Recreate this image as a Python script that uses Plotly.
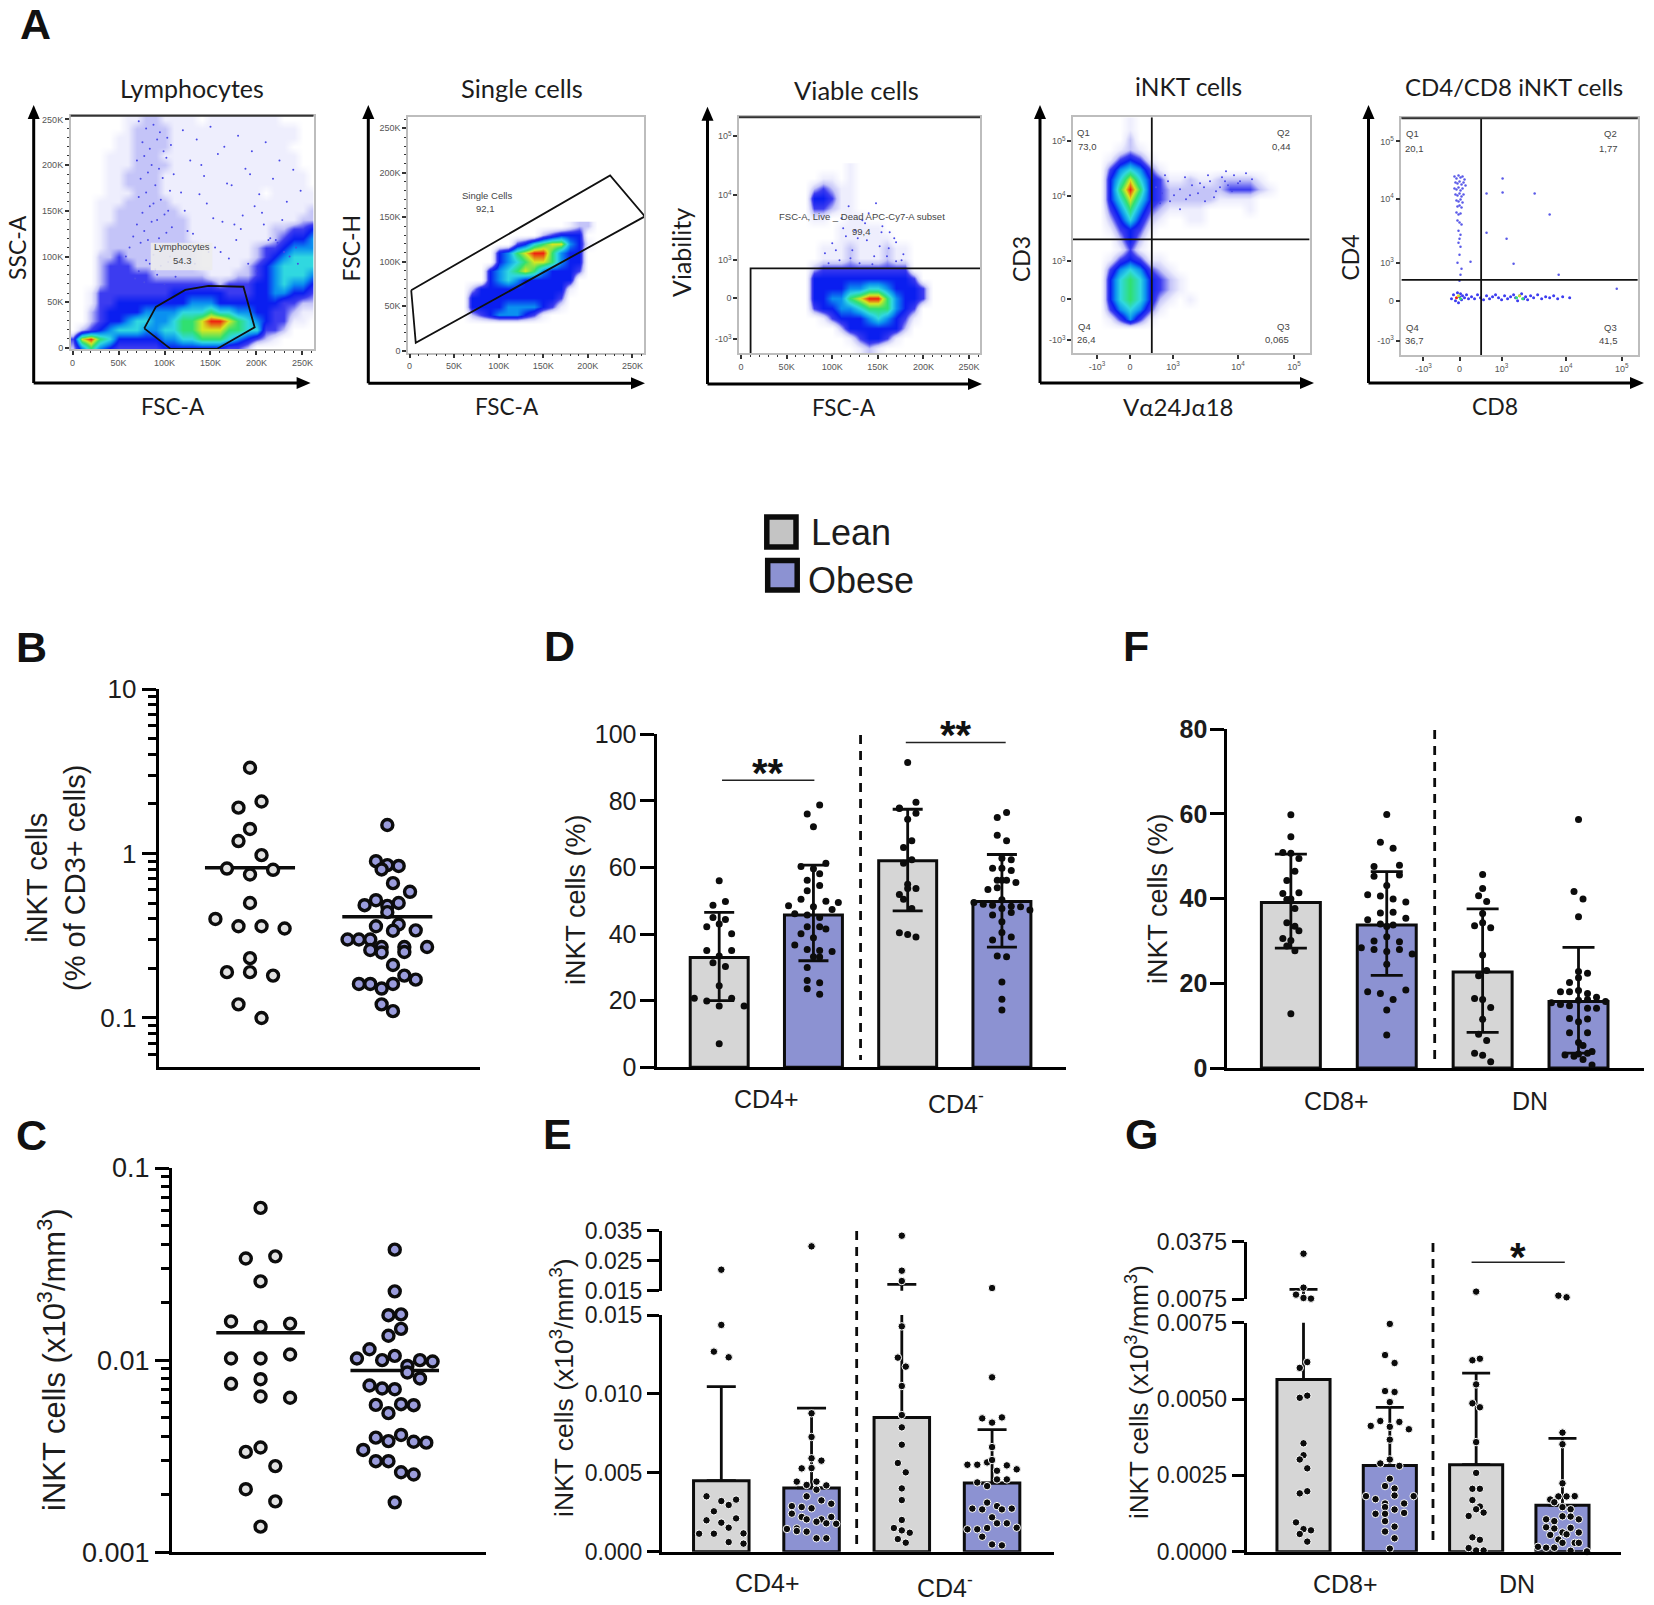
"""Multi-panel iNKT figure: flow gating row (A) and the lean/obese comparison panels (B-G)."""
import plotly.graph_objects as go

W, H = 1654, 1605
LEAN_COLOR = "#d6d6d6"
OBESE_COLOR = "#8c92d2"
LEAN_RING = "#e2e2e2"
OBESE_RING = "#9a9cdc"
SANS = "Liberation Sans"
FLOW_FONT = "Lato"
INK = "#1c1c1c"
DENSITY_SCALE = [
    [0 / 9, "#ffffff"], [1 / 9, "#eeeefd"], [2 / 9, "#c4c4f8"], [3 / 9, "#3c3cf0"], [4 / 9, "#0a1ef0"],
    [5 / 9, "#0a90f0"], [6 / 9, "#30d8e0"], [7 / 9, "#30e070"], [8 / 9, "#d8e820"], [9 / 9, "#f02010"],
]

# ---- panel A: density levels (0-9), top row first
A1_X = list(range(0, 270, 10))
A1_Y = list(range(250, -10, -10))
A1_DENSITY = [
    "000000112211110111111110000", "000000122221111111111111100", "000001122221111111111111100",
    "000001122221111111111111000", "000011122211111111111111100", "000011122221111111111111100",
    "000011222211111111111111110", "000011222211111111111111110", "000011122211111111111011111",
    "000111222221111111111111111", "000112222222111111111111112", "000112222222211111111111122",
    "000122222222211111111122334", "000122222222211111111123445", "000122222222221111112334555",
    "000223222222221111112345666", "000233322222221111123456666", "000233333222222111223456665",
    "000233333333333323334456554", "001333333334444443334455443", "001334444444455544444443322",
    "002344445555666766554433211", "002344566556778998765433110", "023456665566778887766332000",
    "389764444455667776543210000", "257543333344444443320000000",
]
A1_GATE_X = [78, 90.6, 122.6, 147.7, 185.8, 198, 157, 106.6, 78]
A1_GATE_Y = [21.5, 45, 63.5, 68, 67, 22.6, -1, -1, 21.5]
A1_SPECK_X = [72, 80, 88, 95, 103, 76, 84, 92, 99, 107, 70, 78, 86, 94, 102, 110, 74, 82, 90, 98, 106, 72, 80, 88, 96,
              104, 76, 84, 92, 100, 108, 70, 78, 86, 94, 102, 74, 82, 90, 98, 106, 66, 80, 88, 96, 62, 72, 84, 92, 104,
              58, 68, 78, 90, 100, 112, 120, 135, 150, 165, 180, 195, 210, 225, 240, 128, 143, 158, 173, 188, 203, 218,
              233, 248, 122, 138, 153, 168, 183, 198, 213, 228, 243, 131, 146, 161, 176, 191, 206, 221, 236, 125, 140,
              155, 170, 185, 200, 215, 230, 245, 118, 133, 148, 163, 178, 193, 208, 223]
A1_SPECK_Y = [248, 240, 244, 236, 230, 225, 218, 228, 215, 222, 205, 210, 200, 196, 208, 190, 185, 192, 178, 186, 172,
              165, 170, 158, 162, 150, 148, 155, 140, 146, 132, 135, 128, 138, 120, 126, 115, 118, 108, 112, 100, 122,
              96, 102, 90, 110, 84, 92, 80, 94, 100, 76, 72, 86, 70, 78, 238, 228, 242, 220, 232, 215, 225, 205, 195,
              205, 188, 212, 178, 196, 168, 185, 160, 172, 150, 168, 142, 180, 130, 155, 118, 140, 110, 125, 158, 105,
              135, 92, 148, 118, 100, 128, 200, 110, 98, 145, 84, 120, 105, 92, 170, 92, 105, 138, 118, 190, 135, 115]

A2_X = list(range(0, 270, 10))
A2_Y = list(range(140, 20, -10))
A2_DENSITY = [
    "000000000000000000122000000", "000000000000000234440000000", "000000000000346788541000000",
    "000000000045789975440000000", "000000000045678875440000000", "000000000456787544430000000",
    "000000000456544444400000000", "000000024444444444100000000", "000000044444444443000000000",
    "000000044445555431000000000", "000000023455543100000000000", "000000000000000000000000000",
]
A2_GATE_X = [1.9, 7, 264, 225, 1.9]
A2_GATE_Y = [68, 9, 151, 197, 68]

A3_X = list(range(0, 270, 10))
A3_Y = list(range(130, -60, -10))
A3_DENSITY = [
    "000000000000100000000000000", "000000000110100000000000000", "000000002321100000000000000",
    "000000004431100000000000000", "000000003321100000000000000", "000000001100110000000000000",
    "000000000001111100000000000", "000000000001111110000000000", "000000000111211121100000000",
    "000000000111211121100000000", "000000002333333333300000000", "000000004444444444430000000",
    "000000004444556654443000000", "000000004455789975443000000", "000000003445567775430000000",
    "000000000134445654310000000", "000000000002444444200000000", "000000000000134431000000000",
    "000000000000012100000000000",
]
A3_GATE_X = [10.5, 10.5, 262]
A3_GATE_Y = [-55, 30, 30]
A3_SPECK_X = [92, 100, 108, 115, 122, 130, 138, 146, 154, 162, 170, 178, 96, 104, 112, 120, 128, 136, 144, 152, 160, 168,
              176, 110, 125, 140, 155, 170, 118, 133, 148, 163]
A3_SPECK_Y = [45, 55, 38, 62, 48, 35, 58, 42, 66, 50, 37, 44, 35, 48, 70, 40, 60, 75, 34, 52, 42, 60, 38, 80, 68, 85, 72,
              56, 92, 78, 95, 66]

A4_X = list(range(-50, 180, 10))
A4_Y = list(range(180, -60, -10))
A4_DENSITY = [
    "00000100000000000000000", "00000100000000000000000", "00000200000000000000000", "00001210000000000000000",
    "00013431000000000000000", "00035653100000000000000", "00046864311211222210000", "00047974322222233321000",
    "00046864322222111100000", "00035753211110000100000", "00024642100110000000000", "00013431000000000000000",
    "00002420000000000000000", "00001310000000000000000", "00013431100000000000000", "00035653210000000000000",
    "00046764321000000000000", "00046764321000000000000", "00046764210100000000000", "00035653100000000000000",
    "00013531000000000000000", "00000000000000000000000", "00000000000000000000000", "00000000000000000000000",
]
A4_QUAD_X = 21.8
A4_QUAD_Y = 60
A4_SPECK_X = [26, 32, 38, 44, 50, 56, 62, 68, 74, 80, 86, 92, 98, 104, 110, 116, 122, 30, 40, 50, 60, 70, 78, 84, 90, 96,
              102, 108, 35, 55, 75, 95]
A4_SPECK_Y = [112, 106, 118, 104, 110, 100, 114, 106, 112, 118, 108, 122, 114, 124, 118, 126, 120, 96, 98, 90, 104, 116,
              124, 102, 112, 128, 108, 116, 124, 122, 98, 118]

A5_COLUMN_X = [-5, -3, -1, 1, 3, 5, -4, -2, 0, 2, 4, 6, -5, -3, -1, 1, 3, -4, -2, 0, 2, 4, -3, -1, 1, 3, -2, 0, 2, -3,
               -1, 1, -2, 0, 2, -1, 1, 0, -1, 1, 0, -2, 2, 1, 0, 43, 27, 43, 75, 90, 27, 47, 54, 11, 99, 157]
A5_COLUMN_Y = [124, 122, 125, 123, 124, 121, 118, 117, 119, 116, 118, 115, 112, 111, 113, 110, 112, 106, 105, 107, 104,
               106, 100, 99, 101, 98, 94, 95, 93, 88, 86, 87, 80, 78, 76, 70, 66, 62, 58, 54, 46, 38, 32, 26, 20,
               122, 107, 108, 107, 86, 68, 62, 37, 39, 26, 12]
A5_BAND_X = [-8, -6, -4, -2, -1, 0, 1, 2, 3, 5, 7, 9, 12, 15, 18, 21, 24, 27, 30, 33, 36, 39, 42, 45, 48, 51, 54, 56,
             58, 60, 62, 64, 66, 68, 71, 74, 78, 82, 86, 90, 94, 98, 103, 110, -3, -1, 1, 57, 60, 63]
A5_BAND_Y = [2, 6, 0, 8, -2, 4, 7, 1, 5, 3, 6, 2, 4, 2, 6, 3, 1, 5, 2, 4, 6, 3, 1, 5, 2, 4, 6, 3, 0, 5, 7, 2, 4, 1, 5,
             3, 6, 2, 4, 3, 5, 2, 4, 3, 3, 5, 2, 3, 5, 2]
A5_BAND_LEVEL = [3] * 44 + [9, 8, 7, 7, 8, 7]
A5_QUAD_X = 21.6
A5_QUAD_Y = 21

# ---- panel B
B_LEAN_COL = [0, 1, -1, 0, -1, 1, -2, 2, 0, 0, -3, -1, 1, 3, 0, -2, 0, 2, -1, 1]
B_LEAN = [3.32, 2.07, 1.90, 1.41, 1.19, 0.977, 0.81, 0.796, 0.745, 0.50, 0.40, 0.361, 0.361, 0.35, 0.231, 0.19, 0.19,
          0.181, 0.121, 0.10]
B_LEAN_MEAN = 0.82
B_OBESE_COL = [0, -1, 0, 1, -0.5, 0.5, 2, -1, -2, 1, 0, 0, 1, -1, 0.5, 2.5, -3.5, -2.5, -1.5, -0.5, -1.5, 1.5, 1.5,
               3.5, -0.5, 0.5, 1.5, 2.5, -2.5, -1.5, 0.5, -0.5, -0.5, 0.5]
B_OBESE = [1.49, 0.898, 0.85, 0.84, 0.80, 0.66, 0.585, 0.52, 0.485, 0.50, 0.48, 0.44, 0.37, 0.361, 0.339, 0.341, 0.30,
           0.30, 0.30, 0.27, 0.259, 0.27, 0.252, 0.27, 0.25, 0.21, 0.181, 0.171, 0.161, 0.161, 0.161, 0.151, 0.121, 0.11]
B_OBESE_MEAN = 0.412
B_TICKS = [0.1, 1, 10]
B_MINOR = [0.05, 0.06, 0.07, 0.08, 0.09, 0.2, 0.3, 0.4, 0.5, 0.6, 0.7, 0.8, 0.9, 2, 3, 4, 5, 6, 7, 8, 9]

# ---- panel C
C_LEAN_COL = [0, -1, 1, 0, -2, 2, 0, -2, 0, 2, -2, 0, 0, 2, 0, -1, 1, -1, 1, 0]
C_LEAN = [0.062, 0.0338, 0.0347, 0.0257, 0.0159, 0.0155, 0.0149, 0.0102, 0.0102, 0.0107, 0.00753, 0.00796, 0.00647,
          0.00637, 0.00351, 0.00333, 0.00281, 0.00213, 0.00184, 0.00136]
C_LEAN_MEAN = 0.0139
C_OBESE_COL = [0, 0, -1, 1, 1, -1, -4, -6, -2, 0, 4, 6, 2, 2, 4, -4, -2, 0, -3, 1, 3, -1, -3, 1, -1, 3, 5, -5, -3, -1,
               1, 3, 0]
C_OBESE = [0.0376, 0.0228, 0.01714, 0.0173, 0.01455, 0.0134, 0.0114, 0.0102, 0.01, 0.01053, 0.01, 0.00984, 0.00933,
           0.00863, 0.00803, 0.00738, 0.00712, 0.00706, 0.00585, 0.0059, 0.00583, 0.0053, 0.00395, 0.00408, 0.00379,
           0.00376, 0.00372, 0.00341, 0.00298, 0.00298, 0.00261, 0.00254, 0.00182]
C_OBESE_MEAN = 0.00883
C_TICKS = [0.001, 0.01, 0.1]
C_MINOR = [0.002, 0.003, 0.004, 0.005, 0.006, 0.007, 0.008, 0.009, 0.02, 0.03, 0.04, 0.05, 0.06, 0.07, 0.08, 0.09]

# ---- panel D, bars are [CD4+, CD4-]
D_LEAN_BAR = [33, 62]
D_LEAN_HI = [46.5, 77.5]
D_LEAN_LO = [20, 47]
D_OBESE_BAR = [45.7, 49.8]
D_OBESE_HI = [60.7, 63.9]
D_OBESE_LO = [32, 36.1]
D1_LEAN_COL = [0, -1, 1, -1, 1, 0, -2, 2, -2, 2, 0, -1, 1, 0, -4, -2, 2, 0, 4, 0]
D1_LEAN = [56, 48.7, 49.8, 45, 44.4, 43, 42.2, 40.1, 35.1, 35.1, 33.4, 31.4, 30.3, 24.5, 20.7, 19.9, 20.7, 18.4, 18.4,
           7.1]
D1_OBESE_COL = [1, -1, 0, 2, -2, 0, 1, -1, 1, -1, -2, 2, 4, -4, 3, 0, -3, -1, 1, -1, 1, 2, -2, 0, -3, -1, 1, 3, 0, 1,
                -1, -1, 1, -1, 1]
D1_OBESE = [78.8, 76.1, 72.2, 61.3, 60.3, 59.6, 58.1, 56.2, 54.6, 53, 50.5, 49.9, 49.5, 48.5, 47.4, 48.2, 46.1, 45.7,
            45, 42.2, 42.2, 41.5, 40.1, 38.9, 36.7, 35.4, 35.1, 34.8, 33.2, 33.1, 30, 26.1, 25.4, 23.6, 21.9]
D2_LEAN_COL = [0, 2, -2, -2, 2, 0, 1, -1, 1, -1, 0, 2, 0, -2, -1, 1, -2, 0, 2]
D2_LEAN = [91.5, 79.6, 77.7, 77.9, 76.3, 74.5, 68, 66, 62.3, 61.3, 55, 53.7, 53.7, 51.9, 50.5, 47.7, 40.4, 39.9, 39.1]
D2_OBESE_COL = [1, -1, -1, 1, 0, 2, -2, 0, 2, 0, -1, 1, 3, -3, -1, -6, -4, -2, 0, 2, 4, 6, -2, 0, 2, 0, 0, -2, 2, -1,
                1, 0, 0, 0]
D2_OBESE = [76.5, 75, 69.7, 68, 62.8, 62.3, 59.8, 59.8, 59.1, 56.2, 56.2, 56.2, 55.5, 53.4, 53.9, 49.5, 49, 48.7, 50.3,
            48.4, 48.2, 47.2, 45.7, 47.7, 46.5, 43.7, 40.5, 38.2, 39.1, 33.4, 33.2, 25.6, 20.4, 17.2]

# ---- panel F, bars are [CD8+, DN]
F_LEAN_BAR = [39.1, 22.7]
F_LEAN_HI = [50.5, 37.6]
F_LEAN_LO = [28.3, 8.4]
F_OBESE_BAR = [33.8, 15.7]
F_OBESE_HI = [46.4, 28.5]
F_OBESE_LO = [21.9, 3.5]
F1_LEAN_COL = [0, 0, -2, 0, 2, 1, -1, -2, 2, -1, 0, 1, -1, 1, 2, -2, 0, -1, 1, 0]
F1_LEAN = [59.8, 54.6, 50.9, 50.7, 49.5, 46.5, 44.3, 41.2, 41.4, 39.8, 39.9, 37.7, 34.3, 33.5, 32.4, 30.6, 30.1, 28.8,
           27.7, 12.8]
F1_OBESE_COL = [0, -1, 1, -2, 2, -2, 2, 0, -3, -1, 1, 3, -1, 1, -3, 3, -1, 1, 0, 0, -2, 2, -4, -2, 2, 0, 4, 0, -3, 3,
                -1, 1, 0, 0]
F1_OBESE = [59.9, 53.3, 51.9, 47.6, 47.9, 45.3, 45.6, 43.1, 40.9, 40.6, 39.9, 39.2, 36.6, 36.8, 35, 35.4, 34, 33.8,
            33.4, 31, 30, 29.8, 28.4, 28, 28, 27.5, 26.9, 24.5, 18, 18.4, 17.6, 16.2, 13.7, 7.8]
F2_LEAN_COL = [0, 0, -1, 1, 0, 0, -2, 2, 0, 1, -1, -2, 0, 2, 0, -1, 1, -2, 0, 2]
F2_LEAN = [45.7, 42.4, 40.7, 39.3, 36.5, 34.3, 33.6, 33.1, 26.7, 23, 21.8, 16.4, 16.2, 14.3, 11.5, 8, 6.5, 3.5, 3, 1.5]
F2_OBESE_COL = [0, -1, 1, 0, 0, 2, 0, -2, -4, -2, 0, 2, 4, 2, -6, -4, -2, 0, 6, 4, 2, -2, 0, 2, -2, 2, 0, 1, 3, 2, -3,
                -1, 1, 0, 3]
F2_OBESE = [58.7, 41.7, 39.9, 35.7, 22.8, 22.4, 21.3, 20.2, 18, 18, 18.3, 17.6, 16.7, 16.2, 15.4, 15, 14.7, 16, 15.7,
            14.1, 14.1, 11.7, 10.9, 11.6, 8.3, 8.3, 6, 5.3, 3.9, 3.5, 3.1, 2.8, 2, 3.3, 0.7]

# ---- panel E, bars are [CD4+, CD4-]
E_LEAN_BAR = [0.0045, 0.00851]
E_LEAN_HI = [0.01046, 0.0171]
E_OBESE_BAR = [0.00404, 0.00435]
E_OBESE_HI = [0.0091, 0.00773]
E1_LEAN_COL = [0, 0, -1, 1, -2, 0, 1, 2, -1, -2, 0, 2, 1, -3, -1, 3, 1, 3]
E1_LEAN = [0.0220, 0.01437, 0.01268, 0.01232, 0.00351, 0.00321, 0.00296, 0.0033, 0.00256, 0.00199, 0.00184, 0.00211,
           0.00152, 0.00114, 0.00114, 0.00116, 0.00061, 0.00051]
E1_OBESE_COL = [0, 0, 0, 0, 2, -2, 0, -3, 1, -1, 3, 1, -1, 2, 4, -4, -2, 0, -4, -2, -1, 4, 2, 1, 3, 5, -5, -3, -3, -1,
                1, 3]
E1_OBESE = [0.02978, 0.00877, 0.00727, 0.00592, 0.00577, 0.00528, 0.0053, 0.00444, 0.00444, 0.00423, 0.0042, 0.00393,
            0.00351, 0.00325, 0.00304, 0.00289, 0.00283, 0.00275, 0.00241, 0.0022, 0.00205, 0.0022, 0.00205, 0.0019,
            0.0018, 0.00177, 0.00144, 0.00148, 0.00131, 0.00127, 0.00085, 0.00085]
E2_LEAN_COL = [0, 0, 0, 0, -1, 1, 0, 0, 0, 0, -1, 1, 0, 0, 0, -2, 0, 2, -1, 1]
E2_LEAN = [0.03333, 0.02167, 0.01822, 0.01428, 0.0123, 0.01173, 0.0105, 0.00866, 0.00788, 0.00678, 0.00562, 0.00503,
           0.00401, 0.00327, 0.00201, 0.0015, 0.00135, 0.0012, 0.0008, 0.00057]
E2_OBESE_COL = [0, 0, -2, 2, 0, 0, -1, 0, -5, -3, 3, 5, 1, 1, 3, -3, -1, -1, 1, -4, -2, 2, 4, 0, 1, 3, -1, -5, -3, 5,
                -2, 0, 2]
E2_OBESE = [0.01589, 0.01105, 0.00845, 0.00851, 0.00818, 0.00663, 0.00566, 0.00581, 0.00551, 0.00551, 0.00547, 0.00522,
            0.00513, 0.00458, 0.00458, 0.00439, 0.00416, 0.00311, 0.00289, 0.00273, 0.00268, 0.00268, 0.00273, 0.00218,
            0.0018, 0.0018, 0.0015, 0.00142, 0.00142, 0.00152, 0.00095, 0.00046, 0.0004]

# ---- panel G, bars are [CD8+, DN]
G_LEAN_BAR = [0.00564, 0.00285]
G_LEAN_HI = [0.0127, 0.00585]
G_OBESE_BAR = [0.00282, 0.00152]
G_OBESE_HI = [0.00473, 0.00371]
G1_LEAN_COL = [0, 0, -2, 0, 2, 1, -1, 1, -1, 0, 0, -1, 1, -1, 1, -2, 0, 2, -1, 1]
G1_LEAN = [0.03126, 0.01357, 0.00993, 0.00819, 0.00785, 0.00621, 0.00602, 0.00511, 0.00504, 0.00355, 0.00316, 0.00302,
           0.00273, 0.00191, 0.00198, 0.00096, 0.00074, 0.0007, 0.00058, 0.00033]
G1_OBESE_COL = [0, -1, 1, -1, 1, 0, -2, 2, -4, 0, 4, 0, 0, -2, 2, 0, -1, 1, 1, -5, 5, -3, 3, -1, -1, 1, -3, -1, 3, -1,
                1, -1, 1, 0]
G1_OBESE = [0.00746, 0.00644, 0.00618, 0.00526, 0.00523, 0.0049, 0.00428, 0.00425, 0.00412, 0.00409, 0.00401, 0.00367,
            0.00302, 0.00289, 0.00281, 0.00239, 0.00215, 0.00207, 0.00184, 0.00182, 0.00182, 0.00172, 0.00158, 0.00158,
            0.00146, 0.00138, 0.00124, 0.00124, 0.00127, 0.001, 0.00082, 0.00066, 0.00044, 0.0001]
G2_LEAN_COL = [0, -1, 1, 0, -1, 1, 0, 0, -1, 1, -1, 1, 0, 2, -2, -1, 1, -2, 0, 2]
G2_LEAN = [0.01149, 0.00627, 0.00632, 0.00548, 0.00486, 0.00473, 0.00359, 0.00258, 0.00206, 0.00206, 0.00169, 0.00148,
           0.00139, 0.00128, 0.00117, 0.00047, 0.00039, 0.00012, 0.00004, 0.00004]
G2_OBESE_COL = [-1, 1, 0, 0, 0, -1, 1, -3, 3, -2, 0, 2, 0, 2, -4, -2, 4, -4, -2, 2, -3, 0, 1, 4, -1, 0, 3, 4, -6, -4,
                -2, 2, 6]
G2_OBESE = [0.00941, 0.00854, 0.0039, 0.00352, 0.00224, 0.00181, 0.00181, 0.00171, 0.00182, 0.00162, 0.00146, 0.00139,
            0.00116, 0.00115, 0.00106, 0.001, 0.00106, 0.0008, 0.00076, 0.00078, 0.00055, 0.00063, 0.00057, 0.00063,
            0.0004, 0.00029, 0.00029, 0.00029, 0.00016, 0.00013, 0.00013, 0.00003, 0.00001]

fig = go.Figure()
layout = {}
shapes = []
notes = []


def dom_x(left, right):
    return [left / W, right / W]


def dom_y(top, bottom):
    return [1 - bottom / H, 1 - top / H]


def text(txt, x, y, size, angle=0, family=SANS, color=INK, xanchor="center", bold=False):
    notes.append(dict(
        text=f"<b>{txt}</b>" if bold else txt, x=x / W, y=1 - y / H, xref="paper", yref="paper",
        xanchor=xanchor, yanchor="middle", showarrow=False, textangle=angle,
        font=dict(family=family, size=size, color=color),
    ))


def paper_point(x, y):
    return f"{x / W:.5f},{1 - y / H:.5f}"


def arrow_up(x, tail_y, tip_y):
    shapes.append(dict(type="line", xref="paper", yref="paper", x0=x / W, x1=x / W, y0=1 - tail_y / H, y1=1 - (tip_y + 10) / H,
                       line=dict(color="black", width=3)))
    path = f"M {paper_point(x, tip_y)} L {paper_point(x - 6, tip_y + 14)} L {paper_point(x + 6, tip_y + 14)} Z"
    shapes.append(dict(type="path", xref="paper", yref="paper", path=path, fillcolor="black", line=dict(width=0)))


def arrow_right(y, tail_x, tip_x):
    shapes.append(dict(type="line", xref="paper", yref="paper", x0=tail_x / W, x1=(tip_x - 10) / W, y0=1 - y / H, y1=1 - y / H,
                       line=dict(color="black", width=3)))
    path = f"M {paper_point(tip_x, y)} L {paper_point(tip_x - 14, y - 6)} L {paper_point(tip_x - 14, y + 6)} Z"
    shapes.append(dict(type="path", xref="paper", yref="paper", path=path, fillcolor="black", line=dict(width=0)))


def value_axis(domain, rng, anchor, ticks, labels, size, ticklen=12, standoff=0, **extra):
    return dict(
        domain=domain, range=rng, anchor=anchor, showline=True, linecolor="black", linewidth=3,
        ticks="outside", ticklen=ticklen, tickwidth=3, tickcolor="black", tickmode="array",
        tickvals=ticks, ticktext=labels, tickfont=dict(family=SANS, size=size, color=INK),
        ticklabelstandoff=standoff, showgrid=False, zeroline=False, **extra,
    )


def base_axis(domain, rng, anchor, line=True):
    return dict(
        domain=domain, range=rng, anchor=anchor, showline=line, linecolor="black", linewidth=3,
        ticks="", showticklabels=False, showgrid=False, zeroline=False,
    )


def flow_axis(domain, rng, anchor, ticks, labels, minor=None):
    ax = dict(
        domain=domain, range=rng, anchor=anchor, showline=True, linecolor="#bdbdbd", linewidth=1.5, mirror=True,
        ticks="outside", ticklen=4, tickwidth=1.5, tickcolor="#333333", tickmode="array", tickvals=ticks,
        ticktext=labels, tickfont=dict(family=SANS, size=9, color="#555555"), showgrid=False, zeroline=False,
    )
    if minor:
        ax["minor"] = dict(ticks="outside", ticklen=2, tickwidth=1, tickcolor="#333333", dtick=minor)
    return ax


def density(name, xs, ys, rows):
    z = [[int(c) for c in row] for row in rows]
    fig.add_trace(go.Heatmap(
        x=xs, y=ys, z=z, zmin=0, zmax=9, colorscale=DENSITY_SCALE, zsmooth="best", showscale=False,
        xaxis=f"x{name}", yaxis=f"y{name}",
    ))


def specks(name, xs, ys):
    fig.add_trace(go.Scatter(
        x=xs, y=ys, mode="markers", marker=dict(size=2, color="#4a4ae8"), xaxis=f"x{name}", yaxis=f"y{name}",
    ))


def gate(name, xs, ys):
    fig.add_trace(go.Scatter(
        x=xs, y=ys, mode="lines", line=dict(color="#111111", width=1.8), xaxis=f"x{name}", yaxis=f"y{name}",
    ))


K_TICKS = [0, 50, 100, 150, 200, 250]
K_LABELS = ["0", "50K", "100K", "150K", "200K", "250K"]
EXP_LABELS = ["-10<sup>3</sup>", "0", "10<sup>3</sup>", "10<sup>4</sup>", "10<sup>5</sup>"]

# ---- A1 lymphocytes
layout["xaxis14"] = flow_axis(dom_x(70.7, 313.5), [-2, 262], "y14", K_TICKS, K_LABELS, 10)
layout["yaxis14"] = flow_axis(dom_y(115.7, 349.3), [-1.4, 254], "x14", K_TICKS, K_LABELS, 10)
density(14, A1_X, A1_Y, A1_DENSITY)
specks(14, A1_SPECK_X, A1_SPECK_Y)
gate(14, A1_GATE_X, A1_GATE_Y)
# ---- A2 single cells
layout["xaxis2"] = flow_axis(dom_x(408, 644), [-1.7, 263], "y2", K_TICKS, K_LABELS, 10)
layout["yaxis2"] = flow_axis(dom_y(116.7, 352.7), [-2.2, 263], "x2", K_TICKS, K_LABELS, 10)
density(2, A2_X, A2_Y, A2_DENSITY)
gate(2, A2_GATE_X, A2_GATE_Y)
# ---- A3 viable cells
layout["xaxis3"] = flow_axis(dom_x(739, 980), [-2.2, 262], "y3", K_TICKS, K_LABELS, 10)
layout["yaxis3"] = flow_axis(dom_y(117.3, 353.3), [-55, 181], "x3", [-41, 0, 38, 103, 162], EXP_LABELS)
density(3, A3_X, A3_Y, A3_DENSITY)
specks(3, A3_SPECK_X, A3_SPECK_Y)
gate(3, A3_GATE_X, A3_GATE_Y)
# ---- A4 iNKT cells
layout["xaxis4"] = flow_axis(dom_x(1073, 1309.6), [-57, 179.6], "y4", [-33, 0, 43, 108, 164], EXP_LABELS)
layout["yaxis4"] = flow_axis(dom_y(117.3, 353.3), [-54, 182], "x4", [-41, 0, 38, 103, 158], EXP_LABELS)
density(4, A4_X, A4_Y, A4_DENSITY)
specks(4, A4_SPECK_X, A4_SPECK_Y)
gate(4, [A4_QUAD_X, A4_QUAD_X], [-54, 182])
gate(4, [-57, 179.6], [A4_QUAD_Y, A4_QUAD_Y])
# ---- A5 CD4/CD8
layout["xaxis5"] = flow_axis(dom_x(1401.4, 1637.8), [-58, 178], "y5", [-36, 0, 42, 106, 162], EXP_LABELS)
layout["yaxis5"] = flow_axis(dom_y(118.3, 355), [-54, 182], "x5", [-40, 0, 38, 102, 159], EXP_LABELS)
fig.add_trace(go.Scatter(
    x=A5_COLUMN_X, y=A5_COLUMN_Y, mode="markers", marker=dict(size=2.5, color="#5a5ae8"), xaxis="x5", yaxis="y5",
))
fig.add_trace(go.Scatter(
    x=A5_BAND_X, y=A5_BAND_Y, mode="markers",
    marker=dict(size=3, color=A5_BAND_LEVEL, cmin=0, cmax=9, colorscale=DENSITY_SCALE), xaxis="x5", yaxis="y5",
))
gate(5, [A5_QUAD_X, A5_QUAD_X], [-54, 182])
gate(5, [-58, 178], [A5_QUAD_Y, A5_QUAD_Y])

for top_name in ["14", "3", "5"]:
    shapes.append(dict(type="line", xref=f"x{top_name} domain", yref=f"y{top_name} domain", x0=0, x1=1, y0=1, y1=1,
                       line=dict(color="#333333", width=2)))
shapes.append(dict(type="rect", xref="x14", yref="y14", x0=85, x1=152, y0=85, y1=115, layer="above",
                   fillcolor="rgba(236,236,236,0.9)", line=dict(width=0)))

FLOW_TITLES = [("Lymphocytes", 191.5, 88, 25), ("Single cells", 522, 88, 25.5), ("Viable cells", 856.5, 90, 25.5),
               ("iNKT cells", 1188, 87, 24.5), ("CD4/CD8 iNKT cells", 1513.6, 87, 24)]
FLOW_XLABELS = [("FSC-A", 172.6, 406.7, 22.5), ("FSC-A", 507, 406.7, 22.5), ("FSC-A", 843.8, 408, 22.5),
                ("Vα24Jα18", 1178, 406, 24), ("CD8", 1495, 406, 23)]
FLOW_YLABELS = [("SSC-A", 17, 248, 23), ("FSC-H", 351.4, 248, 23), ("Viability", 681, 253, 25), ("CD3", 1021, 259, 23),
                ("CD4", 1349.5, 258, 23)]
FLOW_ARROWS = [(33.7, 383, 105, 310.6), (368.3, 383.3, 105, 645), (707.5, 384, 106.7, 982),
               (1040, 383, 105, 1314), (1368.5, 383, 105, 1644)]
for label, x, y, size in FLOW_TITLES + FLOW_XLABELS:
    text(label, x, y, size, family=FLOW_FONT)
for label, x, y, size in FLOW_YLABELS:
    text(label, x, y, size, angle=-90, family=FLOW_FONT)
for ox, oy, tip_y, tip_x in FLOW_ARROWS:
    arrow_up(ox, oy, tip_y)
    arrow_right(oy, ox, tip_x)

GATE_TEXT = [
    ("Lymphocytes", 182, 246.7), ("54.3", 182, 260.7), ("Single Cells", 487, 195.3), ("92,1", 486, 209),
    ("FSC-A, Live _ Dead APC-Cy7-A subset", 861.5, 216.7), ("99,4", 861.5, 231.7),
    ("Q1", 1083, 132.7), ("73,0", 1087, 146.7), ("Q2", 1283.6, 132.7), ("0,44", 1281, 146.7),
    ("Q4", 1084.6, 326), ("26,4", 1086.5, 339.3), ("Q3", 1283.6, 326), ("0,065", 1277, 339.3),
    ("Q1", 1412, 134), ("20,1", 1414, 148), ("Q2", 1610.6, 134), ("1,77", 1608.7, 148),
    ("Q4", 1412, 327), ("36,7", 1414, 341), ("Q3", 1610.6, 327), ("41,5", 1608.7, 341),
]
for label, x, y in GATE_TEXT:
    text(label, x, y, 9.5, color="#444444")


def swarm(name, group, cols, vals, step, fill):
    fig.add_trace(go.Scatter(
        x=[group + c * step for c in cols], y=vals, mode="markers", cliponaxis=False,
        marker=dict(size=11, color=fill, line=dict(color="#0c0c0c", width=3.4)),
        xaxis=f"x{name}", yaxis=f"y{name}",
    ))


def mean_line(name, group, value, half):
    fig.add_trace(go.Scatter(
        x=[group - half, group + half], y=[value, value], mode="lines",
        line=dict(color="#0c0c0c", width=3.5), xaxis=f"x{name}", yaxis=f"y{name}",
    ))


# ---- B
layout["xaxis6"] = base_axis(dom_x(158.7, 480), [0.335, 2.675], "y6")
layout["yaxis6"] = value_axis(dom_y(689, 1067), [-1.298, 1], "x6", B_TICKS, ["0.1", "1", "10"], 26, ticklen=14, type="log",
                              minor=dict(ticks="outside", ticklen=8, tickwidth=3, tickcolor="black", tickvals=B_MINOR))
mean_line(6, 1, B_LEAN_MEAN, 0.328)
mean_line(6, 2, B_OBESE_MEAN, 0.328)
swarm(6, 1, B_LEAN_COL, B_LEAN, 0.084, LEAN_RING)
swarm(6, 2, B_OBESE_COL, B_OBESE, 0.0827, OBESE_RING)

# ---- C
layout["xaxis7"] = base_axis(dom_x(172, 486), [0.34, 2.68], "y7")
layout["yaxis7"] = value_axis(dom_y(1168, 1552.3), [-3, -1], "x7", C_TICKS, ["0.001", "0.01", "0.1"], 27, ticklen=14, type="log",
                              minor=dict(ticks="outside", ticklen=8, tickwidth=3, tickcolor="black", tickvals=C_MINOR))
mean_line(7, 1, C_LEAN_MEAN, 0.33)
mean_line(7, 2, C_OBESE_MEAN, 0.33)
swarm(7, 1, C_LEAN_COL, C_LEAN, 0.11, LEAN_RING)
swarm(7, 2, C_OBESE_COL, C_OBESE, 0.047, OBESE_RING)


def bars(name, xs, means, hi, lo, fill, cap, bar_width=0.615):
    lows = lo if lo else means
    fig.add_trace(go.Bar(
        x=xs, y=means, width=bar_width, marker=dict(color=fill, line=dict(color="#0c0c0c", width=3)),
        error_y=dict(type="data", symmetric=False, array=[h - m for h, m in zip(hi, means)],
                     arrayminus=[m - l for m, l in zip(means, lows)], color="#0c0c0c", thickness=2.8, width=cap),
        xaxis=f"x{name}", yaxis=f"y{name}",
    ))


def dots(name, group, cols, vals, step, halo=False):
    fig.add_trace(go.Scatter(
        x=[group + c * step for c in cols], y=vals, mode="markers", cliponaxis=False,
        marker=dict(size=7.5 if halo else 7, color="#0c0c0c", line=dict(color="white", width=1 if halo else 0)),
        xaxis=f"x{name}", yaxis=f"y{name}",
    ))


def broken_dots(low, high, split, group, cols, vals, step):
    low_cols = [c for c, v in zip(cols, vals) if v <= split]
    low_vals = [v for v in vals if v <= split]
    high_cols = [c for c, v in zip(cols, vals) if v > split]
    high_vals = [v for v in vals if v > split]
    dots(low, group, low_cols, low_vals, step, halo=True)
    dots(high, group, high_cols, high_vals, step, halo=True)


def upper_error(name, xs, means, hi, cap):
    # continuation of the error bar above the axis break; the lower part is clipped at the break
    fig.add_trace(go.Scatter(
        x=xs, y=means, mode="markers", marker=dict(size=1, opacity=0),
        error_y=dict(type="data", symmetric=False, array=[h - m for h, m in zip(hi, means)], arrayminus=[0] * len(xs),
                     color="#0c0c0c", thickness=2.8, width=cap),
        xaxis=f"x{name}", yaxis=f"y{name}",
    ))


def divider(name, y0, y1):
    shapes.append(dict(type="line", xref=f"x{name}", yref="paper", x0=2.5, x1=2.5, y0=1 - y0 / H, y1=1 - y1 / H,
                       line=dict(color="#0c0c0c", width=2.8, dash="9px,7px")))


def stat(name, x0, x1, y, stars, star_y, star_size=40):
    shapes.append(dict(type="line", xref=f"x{name}", yref=f"y{name}", x0=x0, x1=x1, y0=y, y1=y,
                       line=dict(color="#222222", width=1.5)))
    notes.append(dict(text=f"<b>{stars}</b>", x=(x0 + x1) / 2, y=1 - star_y / H, xref=f"x{name}", yref="paper",
                      xanchor="center", yanchor="middle", showarrow=False,
                      font=dict(family=SANS, size=star_size, color="#111111")))


# ---- D
layout["xaxis8"] = base_axis(dom_x(657, 1066), [0.34, 4.68], "y8")
layout["yaxis8"] = value_axis(dom_y(734.3, 1067.3), [0, 100], "x8", [0, 20, 40, 60, 80, 100],
                              ["0", "20", "40", "60", "80", "100"], 25, ticklen=14.5, standoff=-2)
bars(8, [1, 3], D_LEAN_BAR, D_LEAN_HI, D_LEAN_LO, LEAN_COLOR, 15)
bars(8, [2, 4], D_OBESE_BAR, D_OBESE_HI, D_OBESE_LO, OBESE_COLOR, 15)
dots(8, 1, D1_LEAN_COL, D1_LEAN, 0.066)
dots(8, 2, D1_OBESE_COL, D1_OBESE, 0.066)
dots(8, 3, D2_LEAN_COL, D2_LEAN, 0.044)
dots(8, 4, D2_OBESE_COL, D2_OBESE, 0.0495)
divider(8, 735, 1060)
stat(8, 1.03, 2.01, 86.2, "**", 773)
stat(8, 2.98, 4.04, 97.5, "**", 735)

# ---- F
layout["xaxis9"] = base_axis(dom_x(1227.3, 1644), [0.337, 4.683], "y9")
layout["yaxis9"] = value_axis(dom_y(729.3, 1068), [0, 80], "x9", [0, 20, 40, 60, 80],
                              ["<b>0</b>", "<b>20</b>", "<b>40</b>", "<b>60</b>", "<b>80</b>"], 25, ticklen=14, standoff=-2)
bars(9, [1, 3], F_LEAN_BAR, F_LEAN_HI, F_LEAN_LO, LEAN_COLOR, 16)
bars(9, [2, 4], F_OBESE_BAR, F_OBESE_HI, F_OBESE_LO, OBESE_COLOR, 16)
dots(9, 1, F1_LEAN_COL, F1_LEAN, 0.042)
dots(9, 2, F1_OBESE_COL, F1_OBESE, 0.0663)
dots(9, 3, F2_LEAN_COL, F2_LEAN, 0.042)
dots(9, 4, F2_OBESE_COL, F2_OBESE, 0.047)
divider(9, 730, 1060)

# ---- E, broken axis: 10 is the lower part, 11 the upper
layout["xaxis10"] = base_axis(dom_x(662, 1053.8), [0.343, 4.684], "y10")
layout["yaxis10"] = value_axis(dom_y(1315, 1551.7), [0, 0.015], "x10", [0, 0.005, 0.01, 0.015],
                               ["0.000", "0.005", "0.010", "0.015"], 23)
layout["xaxis11"] = base_axis(dom_x(662, 1053.8), [0.343, 4.684], "y11", line=False)
layout["yaxis11"] = value_axis(dom_y(1230.7, 1290.7), [0.015, 0.035], "x11", [0.015, 0.025, 0.035],
                               ["0.015", "0.025", "0.035"], 23)
bars(10, [1, 3], E_LEAN_BAR, E_LEAN_HI, None, LEAN_COLOR, 14.5)
bars(10, [2, 4], E_OBESE_BAR, E_OBESE_HI, None, OBESE_COLOR, 14.5)
upper_error(11, [3], [E_LEAN_BAR[1]], [E_LEAN_HI[1]], 14.5)
broken_dots(10, 11, 0.015, 1, E1_LEAN_COL, E1_LEAN, 0.082)
broken_dots(10, 11, 0.015, 2, E1_OBESE_COL, E1_OBESE, 0.0546)
broken_dots(10, 11, 0.015, 3, E2_LEAN_COL, E2_LEAN, 0.044)
broken_dots(10, 11, 0.015, 4, E2_OBESE_COL, E2_OBESE, 0.0546)
divider(10, 1231, 1544)

# ---- G, broken axis: 12 is the lower part, 13 the upper
layout["xaxis12"] = base_axis(dom_x(1246.7, 1621), [0.342, 4.678], "y12")
layout["yaxis12"] = value_axis(dom_y(1322.7, 1551.7), [0, 0.0075], "x12", [0, 0.0025, 0.005, 0.0075],
                               ["0.0000", "0.0025", "0.0050", "0.0075"], 23)
layout["xaxis13"] = base_axis(dom_x(1246.7, 1621), [0.342, 4.678], "y13", line=False)
layout["yaxis13"] = value_axis(dom_y(1241.7, 1299.3), [0.0075, 0.0375], "x13", [0.0075, 0.0375], ["0.0075", "0.0375"], 23)
bars(12, [1, 3], G_LEAN_BAR, G_LEAN_HI, None, LEAN_COLOR, 14)
bars(12, [2, 4], G_OBESE_BAR, G_OBESE_HI, None, OBESE_COLOR, 14)
upper_error(13, [1], [G_LEAN_BAR[0]], [G_LEAN_HI[0]], 14)
broken_dots(12, 13, 0.0075, 1, G1_LEAN_COL, G1_LEAN, 0.0434)
broken_dots(12, 13, 0.0075, 2, G1_OBESE_COL, G1_OBESE, 0.0552)
broken_dots(12, 13, 0.0075, 3, G2_LEAN_COL, G2_LEAN, 0.0434)
broken_dots(12, 13, 0.0075, 4, G2_OBESE_COL, G2_OBESE, 0.0473)
divider(12, 1243, 1544)
stat(13, 2.947, 4.027, 0.02675, "*", 1257)

# ---- panel labels and axis titles
for letter, x, y in [("A", 35, 24), ("B", 31, 647), ("C", 31, 1135), ("D", 559, 646), ("E", 557, 1134),
                     ("F", 1136, 646), ("G", 1141, 1134)]:
    text(letter, x, y, 43, bold=True, color="#111111")
text("iNKT cells<br>(% of CD3+ cells)", 56, 878, 29, angle=-90)
text("iNKT cells (x10<sup>3</sup>/mm<sup>3</sup>)", 52, 1360, 31, angle=-90)
text("iNKT cells (%)", 576, 900, 27, angle=-90)
text("iNKT cells (%)", 1158, 899, 27, angle=-90)
text("iNKT cells (x10<sup>3</sup>/mm<sup>3</sup>)", 562, 1388, 26.5, angle=-90)
text("iNKT cells (x10<sup>3</sup>/mm<sup>3</sup>)", 1137, 1392, 26, angle=-90)
for label, x, y in [("CD4+", 766, 1099), ("CD4<sup>-</sup>", 955.5, 1102), ("CD8+", 1336, 1101), ("DN", 1530, 1101),
                    ("CD4+", 767.6, 1583), ("CD4<sup>-</sup>", 945, 1586), ("CD8+", 1345.5, 1584), ("DN", 1517, 1584)]:
    text(label, x, y, 25)

# ---- legend
for fill, x0, x1, y0, y1 in [("#c4c4c4", 766.8, 796, 517, 547), (OBESE_COLOR, 767.7, 797.2, 560.5, 590)]:
    shapes.append(dict(type="rect", xref="paper", yref="paper", x0=x0 / W, x1=x1 / W, y0=1 - y0 / H, y1=1 - y1 / H,
                       fillcolor=fill, line=dict(color="#0c0c0c", width=5.5)))
text("Lean", 809, 532, 36, xanchor="left")
text("Obese", 806, 580, 36, xanchor="left")

fig.update_layout(
    width=W, height=H, autosize=False, margin=dict(l=0, r=0, t=0, b=0, pad=0, autoexpand=False),
    paper_bgcolor="white", plot_bgcolor="rgba(0,0,0,0)", showlegend=False, barmode="overlay",
    shapes=shapes, annotations=notes, **layout,
)
fig.write_html("out.html", post_script="document.body.style.margin='0';", config=dict(displayModeBar=False))
